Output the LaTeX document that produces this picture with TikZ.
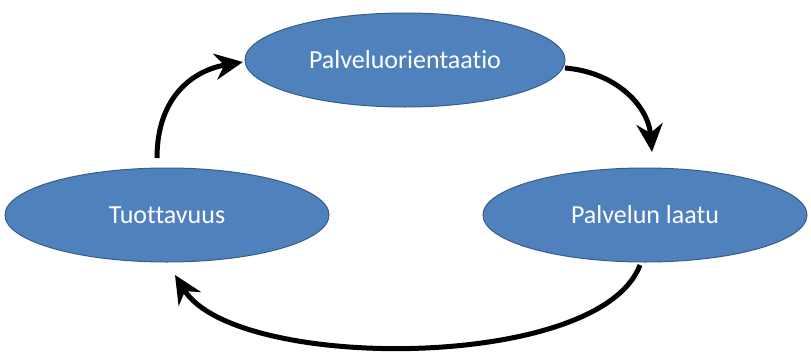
\documentclass[tikz,border=0pt]{standalone}
\usepackage{fontspec}
\setmainfont{Carlito}[Ligatures=NoCommon]
\usetikzlibrary{shapes.geometric,arrows.meta}
\definecolor{ellfill}{HTML}{4F81BD}
\definecolor{elledge}{HTML}{385D8A}
\begin{document}
\begin{tikzpicture}[x=1pt,y=-1pt,
  oval/.style={ellipse,fill=ellfill,draw=elledge,line width=1pt,
    minimum width=320pt,minimum height=94pt,inner sep=0pt,
    text=white,font=\fontsize{26}{30}\selectfont},
  cyc/.style={line width=5pt,-{Stealth[length=28pt,width=26pt,inset=9pt]}}]
\useasboundingbox (0,0) rectangle (811,351);
\node[oval] (po) at (405,60) {Palveluorientaatio};
\node[oval,minimum width=324pt] (tu) at (167,215) {Tuottavuus};
\node[oval,minimum width=324pt] (pl) at (645,215) {Palvelun laatu};
\coordinate (tuTop) at (157,158);
\coordinate (poIn) at (243,62);
\coordinate (poOut) at (565,68);
\coordinate (plIn) at (652,152);
\coordinate (plOut) at (640,265);
\coordinate (tuIn) at (175,275);
\draw[cyc] (tuTop) .. controls (157,95) and (195,70) .. (poIn);
\draw[cyc] (poOut) .. controls (615,72) and (648,105) .. (plIn);
\draw[cyc] (plOut) .. controls (600,372) and (235,372) .. (tuIn);
\end{tikzpicture}
\end{document}
